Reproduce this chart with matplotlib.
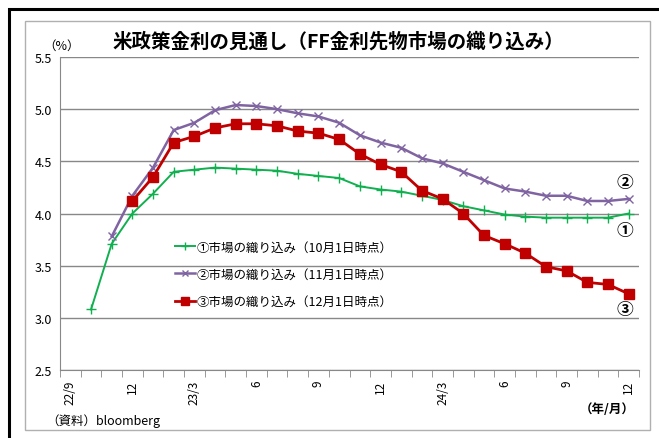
import matplotlib.pyplot as plt
import numpy as np
from matplotlib.patches import Rectangle

plt.rcParams['font.family'] = ['Noto Sans CJK JP', 'DejaVu Sans']

# months 22/9 .. 24/12 (28 categories)
months = ["22/9", "10", "11", "12", "23/1", "2", "3", "4", "5", "6", "7", "8", "9", "10",
          "11", "12", "24/1", "2", "3", "4", "5", "6", "7", "8", "9", "10", "11", "12"]
tick_pos = [0, 3, 6, 9, 12, 15, 18, 21, 24, 27]
tick_labels = ["22/9", "12", "23/3", "6", "9", "12", "24/3", "6", "9", "12"]

nan = np.nan
oct_1 = [nan, 3.08, 3.71, 4.00, 4.19, 4.40, 4.42, 4.44, 4.43, 4.42, 4.41, 4.38, 4.36, 4.34,
         4.26, 4.23, 4.21, 4.17, 4.13, 4.07, 4.03, 3.99, 3.97, 3.96, 3.96, 3.96, 3.96, 4.00]
nov_1 = [nan, nan, 3.78, 4.17, 4.44, 4.80, 4.87, 4.99, 5.04, 5.03, 5.00, 4.96, 4.93, 4.87,
         4.75, 4.68, 4.63, 4.53, 4.48, 4.40, 4.32, 4.24, 4.21, 4.17, 4.17, 4.12, 4.12, 4.14]
dec_1 = [nan, nan, nan, 4.12, 4.35, 4.68, 4.74, 4.82, 4.86, 4.86, 4.84, 4.79, 4.77, 4.71,
         4.57, 4.47, 4.40, 4.22, 4.14, 4.00, 3.79, 3.71, 3.62, 3.49, 3.45, 3.34, 3.32, 3.23]

labels = ["①市場の織り込み（10月1日時点）",
          "②市場の織り込み（11月1日時点）",
          "③市場の織り込み（12月1日時点）"]

W, H = 659, 439
fig = plt.figure(figsize=(W / 100, H / 100), dpi=100)

# outer black frame (cut off on the right and bottom) and inner chart-area frame
fig.patches.append(Rectangle((9 / W, -0.1), 1.2, 1.1 - 10 / H, transform=fig.transFigure,
                             fill=False, edgecolor="black", linewidth=2.2))
fig.patches.append(Rectangle((25 / W, 8 / H), 625 / W, 409 / H, transform=fig.transFigure,
                             fill=False, edgecolor="#b0b0b0", linewidth=1.0))

ax = fig.add_axes([60 / W, (H - 371) / H, 579 / W, 313 / H])
x = np.arange(len(months))

ax.plot(x, oct_1, color="#10b050", lw=1.4, marker="+", ms=7, mew=1.0, label=labels[0])
ax.plot(x, nov_1, color="#8064a2", lw=1.8, marker="x", ms=6, mew=1.0, label=labels[1])
ax.plot(x, dec_1, color="#c00000", lw=2.0, marker="s", ms=6.5, label=labels[2])

ax.set_xlim(-0.5, len(months) - 0.5)
ax.set_ylim(2.5, 5.5)
ax.set_yticks(np.arange(2.5, 5.51, 0.5))
ax.set_yticklabels([f"{v:.1f}" for v in np.arange(2.5, 5.51, 0.5)], fontsize=9)
ax.grid(axis="y", color="#888888", lw=1.0)
ax.set_axisbelow(True)

ax.set_xticks(tick_pos)
ax.set_xticklabels(tick_labels, rotation=90, fontsize=8.5)
ax.set_xticks(np.arange(-0.5, len(months), 1), minor=True)
ax.tick_params(axis="x", which="major", length=0, pad=7)
ax.tick_params(axis="x", which="minor", length=5, color="#888888", direction="out")
ax.tick_params(axis="y", length=0, pad=6)

for s in ["top", "right"]:
    ax.spines[s].set_visible(False)
ax.spines["left"].set_color("#888888")
ax.spines["bottom"].set_color("#888888")

ax.legend(loc="upper left", bbox_to_anchor=(0.19, 0.43), frameon=False, fontsize=9,
          labelspacing=1.15, handlelength=1.6, handletextpad=0.1, borderaxespad=0,
          markerscale=0.8)

fig.text(338 / W, 1 - 42 / H, "米政策金利の見通し（FF金利先物市場の織り込み）",
         ha="center", va="center", fontsize=14, fontweight="bold")
fig.text(62 / W, 1 - 46 / H, "（%）", ha="center", va="center", fontsize=9)
fig.text(625 / W, 1 - 183 / H, "②", ha="center", va="center", fontsize=12, fontweight="bold")
fig.text(625 / W, 1 - 231 / H, "①", ha="center", va="center", fontsize=12, fontweight="bold")
fig.text(625 / W, 1 - 310 / H, "③", ha="center", va="center", fontsize=12, fontweight="bold")
fig.text(607 / W, 1 - 410 / H, "（年/月）", ha="center", va="center", fontsize=9, fontweight="bold")
fig.text(46 / W, 1 - 421 / H, "（資料）bloomberg", ha="left", va="center", fontsize=9)

fig.savefig("out.png", dpi=100)
